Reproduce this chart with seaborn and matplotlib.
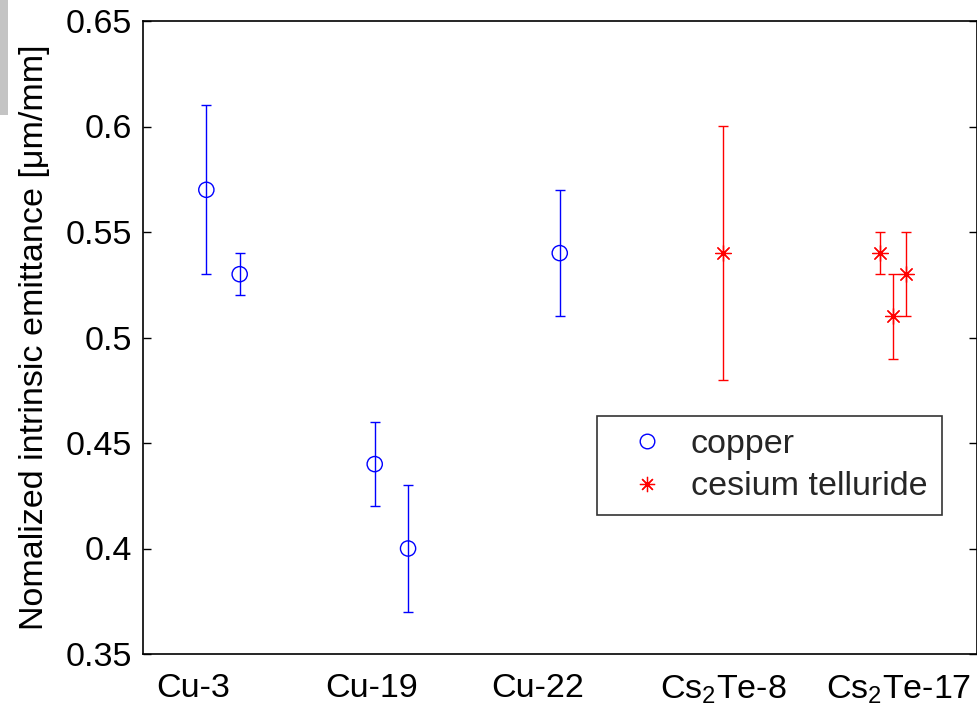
import matplotlib
matplotlib.use("Agg")
import matplotlib.pyplot as plt
from matplotlib.lines import Line2D
from matplotlib.patches import Rectangle
import numpy as np
import pandas as pd
import seaborn as sns

# Measured emittance per cathode sample
copper_x = [0.88, 1.08, 1.89, 2.09, 3.0]
copper_emit = [0.57, 0.53, 0.44, 0.40, 0.54]
copper_err = [0.04, 0.01, 0.02, 0.03, 0.03]

cstel_x = [3.98, 4.92, 5.0, 5.08]
cstel_emit = [0.54, 0.54, 0.51, 0.53]
cstel_err = [0.06, 0.01, 0.02, 0.02]

sample_labels = ["Cu-3", "Cu-19", "Cu-22", "Cs$_2$Te-8", "Cs$_2$Te-17"]
sample_label_pos = [0.80, 1.87, 2.87, 3.98, 5.035]
y_ticks = [0.35, 0.40, 0.45, 0.50, 0.55, 0.60, 0.65]
y_tick_labels = ["0.35", "0.4", "0.45", "0.5", "0.55", "0.6", "0.65"]

sns.set_theme(style="white")
plt.rcParams["font.family"] = ["Liberation Sans", "DejaVu Sans"]
plt.rcParams["mathtext.fontset"] = "custom"
plt.rcParams["mathtext.rm"] = "Liberation Sans"
plt.rcParams["mathtext.it"] = "Liberation Sans:italic"
plt.rcParams["mathtext.bf"] = "Liberation Sans:bold"

FS = 24.5

copper = pd.DataFrame({"x": copper_x, "emit": copper_emit, "err": copper_err})
cstel = pd.DataFrame({"x": cstel_x, "emit": cstel_emit, "err": cstel_err})

fig = plt.figure(figsize=(9.77, 7.07), dpi=100)
ax = fig.add_axes([143 / 977, 53 / 707, 833.5 / 977, 633 / 707])

# error bars
ax.errorbar(copper["x"], copper["emit"], yerr=copper["err"], fmt="none",
            ecolor="#0000ff", elinewidth=1.0, capsize=3.5, capthick=1.0, zorder=2)
ax.errorbar(cstel["x"], cstel["emit"], yerr=cstel["err"], fmt="none",
            ecolor="#ff0000", elinewidth=1.0, capsize=3.5, capthick=1.0, zorder=2)

# markers
sns.scatterplot(data=copper, x="x", y="emit", ax=ax, marker="o", s=120,
                facecolor="none", edgecolor="#0000ff", linewidth=1.0, zorder=3)
sns.scatterplot(data=cstel, x="x", y="emit", ax=ax, marker=(8, 2, 0), s=130,
                facecolor="#ff0000", edgecolor="#ff0000", linewidth=0.9, zorder=3)

ax.set_xlim(0.5, 5.5)
ax.set_ylim(0.35, 0.65)
ax.set_yticks(y_ticks)
ax.set_yticklabels(y_tick_labels, fontsize=FS)
ax.set_xticks(sample_label_pos)
ax.set_xticklabels(sample_labels, fontsize=FS)
ax.tick_params(axis="x", length=0, pad=14, colors="black")
ax.tick_params(axis="y", direction="in", length=6, width=1.0, left=True,
               right=True, pad=8, colors="black")
ax.set_xlabel("")
ax.set_ylabel("Nomalized intrinsic emittance [μm/mm]", fontsize=FS, color="black")
ax.yaxis.set_label_coords(-0.112, 0.5)

for sp in ax.spines.values():
    sp.set_color("black")
    sp.set_linewidth(1.2)
    sp.set_visible(True)

handles = [
    Line2D([], [], linestyle="none", marker="o", markersize=10.5,
           markerfacecolor="none", markeredgecolor="#0000ff", markeredgewidth=1.0),
    Line2D([], [], linestyle="none", marker=(8, 2, 0), markersize=11,
           markerfacecolor="#ff0000", markeredgecolor="#ff0000", markeredgewidth=0.9),
]
leg = ax.legend(handles, ["copper", "cesium telluride"], loc="upper left",
                bbox_to_anchor=(0.545, 0.223, 0.414, 0.153), mode="expand",
                borderaxespad=0, fontsize=FS, frameon=True, fancybox=False,
                borderpad=0.38, handlelength=2.15, handletextpad=0.22,
                labelspacing=0.34)
leg.get_frame().set_edgecolor("black")
leg.get_frame().set_linewidth(1.2)

fig.patches.append(Rectangle((0, 1 - 115 / 707), 8 / 977, 115 / 707,
                             transform=fig.transFigure, facecolor="#c4c4c4",
                             edgecolor="none"))

fig.savefig("out.png", dpi=100)
